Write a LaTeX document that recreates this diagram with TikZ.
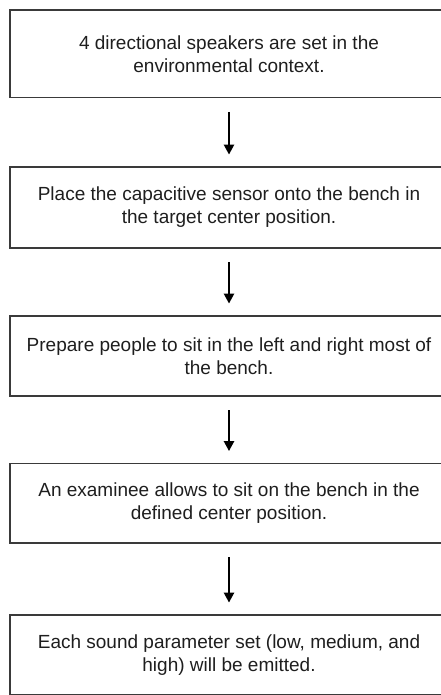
\documentclass[tikz,border=0pt]{standalone}
\usepackage{fontspec}
\setmainfont{Liberation Sans}
\usetikzlibrary{arrows.meta}
\definecolor{boxline}{HTML}{3A3A3A}
\definecolor{textcol}{HTML}{1E1E1E}
\begin{document}
\begin{tikzpicture}[x=1pt,y=-1pt,
  stepbox/.style={draw=boxline, line width=1.8pt, rectangle,
    minimum width=438pt, align=center, text=textcol,
    font=\fontsize{19}{23}\selectfont, inner sep=0pt},
  flow/.style={line width=2.4pt, black,
    -{Triangle[width=10pt,length=10pt]},
    shorten <=13.5pt, shorten >=11.5pt}]
  \useasboundingbox (0,0) rectangle (440,695);
  \node[stepbox, minimum height=87.5pt] (s1) at (229,53.75)
    {4 directional speakers are set in the\\environmental context.};
  \node[stepbox, minimum height=81pt] (s2) at (229,207.5)
    {Place the capacitive sensor onto the bench in\\the target center position.};
  \node[stepbox, minimum height=80pt] (s3) at (229,356)
    {Prepare people to sit in the left and right most of\\the bench.};
  \node[stepbox, minimum height=79.5pt] (s4) at (229,503.25)
    {An examinee allows to sit on the bench in the\\defined center position.};
  \node[stepbox, minimum height=80pt] (s5) at (229,655)
    {Each sound parameter set (low, medium, and\\high) will be emitted.};
  \draw[flow] (s1.south) -- (s2.north);
  \draw[flow] (s2.south) -- (s3.north);
  \draw[flow] (s3.south) -- (s4.north);
  \draw[flow] (s4.south) -- (s5.north);
\end{tikzpicture}
\end{document}
